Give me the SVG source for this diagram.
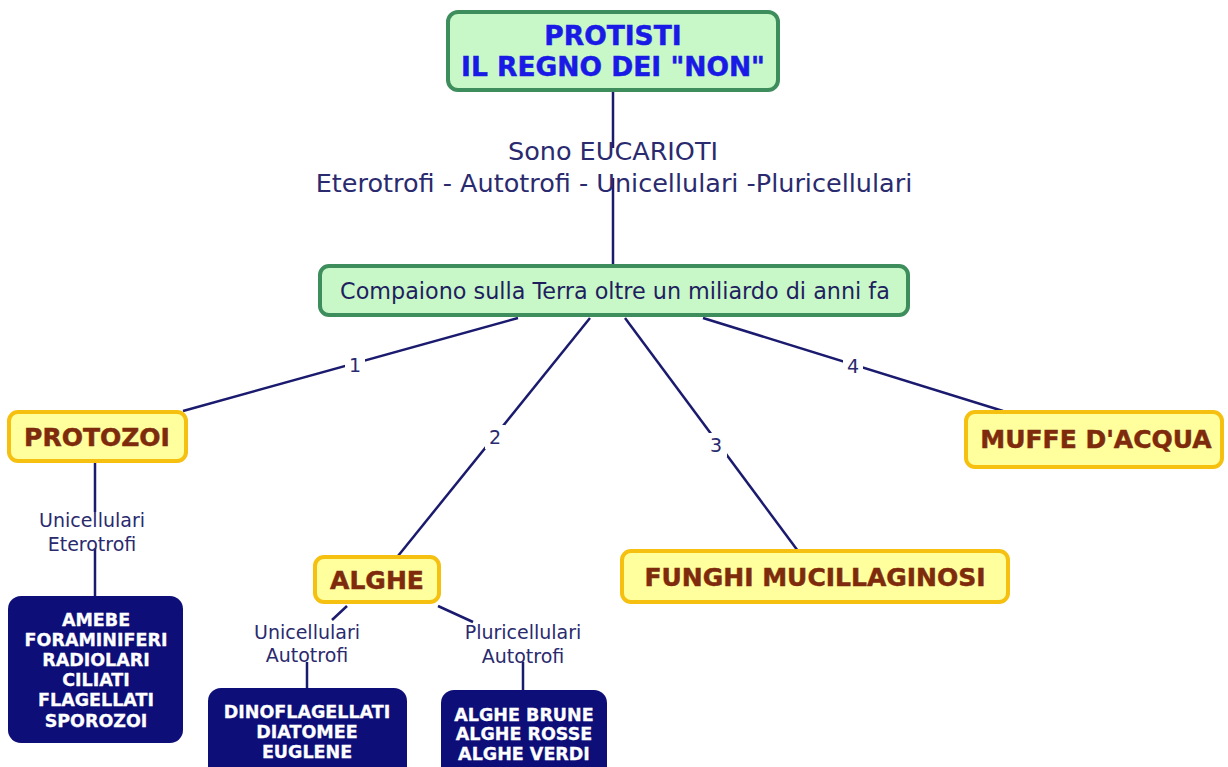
<svg xmlns="http://www.w3.org/2000/svg" width="1228" height="767" viewBox="0 0 1228 767">
<style>
.green{fill:#c8f7c8;stroke:#3d8d5d;stroke-width:4}
.yellow{fill:#ffff9e;stroke:#f5c010;stroke-width:4}
.navy{fill:#0e0e78}
.conn{stroke:#1a1a6e;stroke-width:2.5;fill:none}
.top{font-family:"DejaVu Sans",Verdana,sans-serif;font-weight:bold;font-size:26.5px;fill:#1a1ae6;stroke:#1a1ae6;stroke-width:0.5;text-anchor:middle}
.mid{font-family:"DejaVu Sans",Verdana,sans-serif;font-size:22.3px;fill:#1f1f5f;text-anchor:middle}
.big{font-family:"DejaVu Sans",Verdana,sans-serif;font-size:25.5px;fill:#2a2a6e;text-anchor:middle}
.brown{font-family:"DejaVu Sans",Verdana,sans-serif;font-weight:bold;font-size:25px;fill:#7e2a0c;stroke:#7e2a0c;stroke-width:0.5;text-anchor:middle}
.white{font-family:"DejaVu Sans",Verdana,sans-serif;font-weight:bold;font-size:17.5px;fill:#ffffff;stroke:#ffffff;stroke-width:0.3;text-anchor:middle}
.small{font-family:"DejaVu Sans",Verdana,sans-serif;font-size:19px;fill:#2a2a6e;text-anchor:middle}
</style>
<rect width="1228" height="767" fill="#ffffff"/>
<g id="connectors">
<line class="conn" x1="613" y1="90" x2="613" y2="148"/>
<line class="conn" x1="613" y1="178" x2="613" y2="266"/>
<line class="conn" x1="518" y1="318" x2="183" y2="411"/>
<line class="conn" x1="590" y1="318" x2="398" y2="556"/>
<line class="conn" x1="625" y1="318" x2="798" y2="551"/>
<line class="conn" x1="703" y1="318" x2="1003" y2="411"/>
<rect x="345" y="353" width="20" height="24" fill="#ffffff"/>
<rect x="485" y="425" width="20" height="24" fill="#ffffff"/>
<rect x="707" y="433" width="20" height="24" fill="#ffffff"/>
<rect x="843" y="354" width="20" height="24" fill="#ffffff"/>
<text class="small" x="355" y="372">1</text>
<text class="small" x="495" y="444">2</text>
<text class="small" x="716" y="452">3</text>
<text class="small" x="853" y="373">4</text>
<line class="conn" x1="95" y1="460" x2="95" y2="512"/>
<line class="conn" x1="95" y1="548" x2="95" y2="597"/>
<line class="conn" x1="347" y1="606" x2="332" y2="620"/>
<line class="conn" x1="307" y1="662" x2="307" y2="689"/>
<line class="conn" x1="438" y1="606" x2="473" y2="622"/>
<line class="conn" x1="523" y1="662" x2="523" y2="691"/>
<text class="big" x="613" y="160">Sono EUCARIOTI</text>
<text class="big" x="614" y="192">Eterotrofi - Autotrofi - Unicellulari -Pluricellulari</text>
<text class="small" x="92" y="527">Unicellulari</text>
<text class="small" x="92" y="551">Eterotrofi</text>
<text class="small" x="307" y="639">Unicellulari</text>
<text class="small" x="307" y="662">Autotrofi</text>
<text class="small" x="523" y="639">Pluricellulari</text>
<text class="small" x="523" y="663">Autotrofi</text>
</g>
<g id="node-protisti">
<rect class="green" x="448" y="12" width="330" height="78" rx="10"/>
<text class="top" x="613" y="45">PROTISTI</text>
<text class="top" x="613" y="76">IL REGNO DEI "NON"</text>
</g>
<g id="node-compaiono">
<rect class="green" x="320" y="266" width="588" height="49" rx="9"/>
<text class="mid" x="615" y="299">Compaiono sulla Terra oltre un miliardo di anni fa</text>
</g>
<g id="node-protozoi">
<rect class="yellow" x="9" y="412" width="177" height="49" rx="9"/>
<text class="brown" x="97" y="446">PROTOZOI</text>
</g>
<g id="node-muffe">
<rect class="yellow" x="966" y="412" width="256" height="55" rx="9"/>
<text class="brown" x="1096" y="448">MUFFE D'ACQUA</text>
</g>
<g id="node-funghi">
<rect class="yellow" x="622" y="551" width="386" height="51" rx="9"/>
<text class="brown" x="815" y="586">FUNGHI MUCILLAGINOSI</text>
</g>
<g id="node-alghe">
<rect class="yellow" x="315" y="557" width="124" height="45" rx="9"/>
<text class="brown" x="377" y="589">ALGHE</text>
</g>
<g id="node-amebe">
<rect class="navy" x="8" y="596" width="175" height="147" rx="13"/>
<text class="white" x="96" y="625.5">AMEBE</text>
<text class="white" x="96" y="645.7">FORAMINIFERI</text>
<text class="white" x="96" y="665.9">RADIOLARI</text>
<text class="white" x="96" y="686.1">CILIATI</text>
<text class="white" x="96" y="706.3">FLAGELLATI</text>
<text class="white" x="96" y="726.5">SPOROZOI</text>
</g>
<g id="node-dino">
<rect class="navy" x="208" y="688" width="199" height="95" rx="13"/>
<text class="white" x="307" y="718">DINOFLAGELLATI</text>
<text class="white" x="307" y="738">DIATOMEE</text>
<text class="white" x="307" y="758">EUGLENE</text>
</g>
<g id="node-alghe-brune">
<rect class="navy" x="441" y="690" width="166" height="95" rx="13"/>
<text class="white" x="524" y="721">ALGHE BRUNE</text>
<text class="white" x="524" y="740">ALGHE ROSSE</text>
<text class="white" x="524" y="760">ALGHE VERDI</text>
</g>
</svg>
